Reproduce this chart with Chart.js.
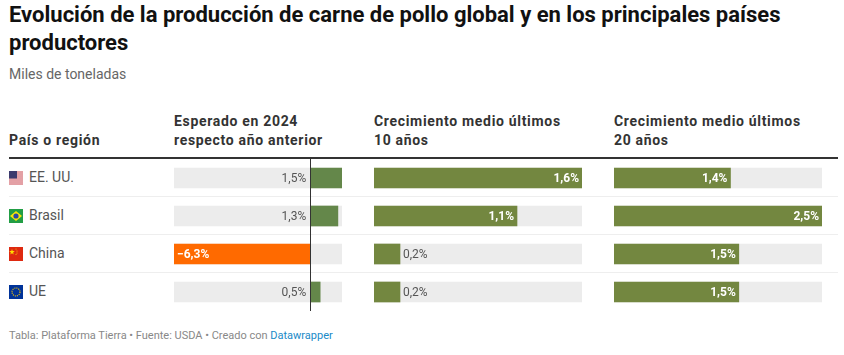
<!DOCTYPE html>
<html lang="es">
<head>
<meta charset="utf-8">
<title>Producción de carne de pollo</title>
<script src="https://cdn.jsdelivr.net/npm/chart.js@4"></script>
<style>
	html, body { margin: 0; padding: 0; background: #fff; }
	body { width: 844px; height: 355px; position: relative; overflow: hidden; font-family: Roboto, sans-serif; }
	.abs { position: absolute; white-space: nowrap; }
	#title { left: 9px; top: 1px; font-size: 22px; line-height: 28px; font-weight: 700; color: #111; }
	#subtitle { left: 9px; top: 65px; font-size: 14px; line-height: 18px; color: #666; }
	.head { font-size: 14px; line-height: 19px; font-weight: 700; color: #333; letter-spacing: .68px; }
	.rule { position: absolute; left: 9px; width: 829px; height: 1px; background: #eee; }
	#headrule { top: 157px; height: 2px; background: #333; }
	.country { left: 29px; font-size: 14px; line-height: 18px; color: #555; }
	.flag { position: absolute; left: 9px; width: 14px; height: 14px; }
	canvas { position: absolute; top: 159px; }
	#footer { left: 9px; top: 329px; font-size: 11px; line-height: 14px; color: #888; }
	#footer a { text-decoration: none; color: #1a8ac7; }
</style>
</head>
<body>
<div class="abs" id="title">Evolución de la producción de carne de pollo global y en los principales países<br>productores</div>
<div class="abs" id="subtitle">Miles de toneladas</div>

<div class="abs head" style="left:9px;top:131px">País o región</div>
<div class="abs head" style="left:174px;top:112px">Esperado en 2024<br>respecto año anterior</div>
<div class="abs head" style="left:374px;top:112px">Crecimiento medio últimos<br>10 años</div>
<div class="abs head" style="left:614px;top:112px">Crecimiento medio últimos<br>20 años</div>

<div class="rule" id="headrule"></div>
<div class="rule" style="top:196px"></div>
<div class="rule" style="top:234px"></div>
<div class="rule" style="top:272px"></div>

<svg class="flag" style="top:171px" viewBox="0 0 14 14">
	<rect width="14" height="14" fill="#fff"/>
	<path d="M0 1h14M0 3h14M0 5h14M0 7h14M0 9h14M0 11h14M0 13h14" stroke="#c8434d" stroke-width="1"/>
	<rect width="8" height="7.5" fill="#3c3b6e"/>
</svg>
<svg class="flag" style="top:209px" viewBox="0 0 14 14">
	<rect width="14" height="14" fill="#229e45"/>
	<path d="M7 2L13 7L7 12L1 7Z" fill="#f8e509"/>
	<circle cx="7" cy="7" r="2.6" fill="#2b49a3"/>
</svg>
<svg class="flag" style="top:247px" viewBox="0 0 14 14">
	<rect width="14" height="14" fill="#de2910"/>
	<path d="M3 2l.7 2.1h2.1l-1.7 1.3.6 2.1L3 6.2 1.3 7.500l.6-2.100L.2 4.100h2.100Z" fill="#ffde00"/>
	<circle cx="7" cy="2" r=".5" fill="#ffde00"/>
	<circle cx="8" cy="4" r=".5" fill="#ffde00"/>
	<circle cx="8" cy="6" r=".5" fill="#ffde00"/>
	<circle cx="7" cy="7.500" r=".5" fill="#ffde00"/>
</svg>
<svg class="flag" style="top:285px" viewBox="0 0 14 14">
	<rect width="14" height="14" fill="#003399"/>
	<circle cx="7" cy="7" r="4" fill="none" stroke="#ffcc00" stroke-width="1.100" stroke-dasharray="1.100 .98"/>
</svg>

<div class="abs country" style="top:168px">EE. UU.</div>
<div class="abs country" style="top:206px">Brasil</div>
<div class="abs country" style="top:244px">China</div>
<div class="abs country" style="top:282px">UE</div>

<canvas id="expected" width="168" height="152" style="left:174px"></canvas>
<canvas id="growth10" width="208" height="152" style="left:374px"></canvas>
<canvas id="growth20" width="208" height="152" style="left:614px"></canvas>

<div class="abs" id="footer">Tabla: Plataforma Tierra • Fuente: USDA • Creado con <a href="#">Datawrapper</a></div>

<script>
const countries = ['EE. UU.', 'Brasil', 'China', 'UE'];
const expected2024 = [1.47, 1.28, -6.3, 0.46];
const growth10 = [1.6, 1.1, 0.2, 0.2];
const growth20 = [1.4, 2.5, 1.5, 1.5];

const TRACK = '#ececec';
const GREEN_1 = '#64874a';
const GREEN_2 = '#738740';
const ORANGE = '#ff6a00';

function formatValue(v) {
	return (v < 0 ? '\u2212' : '') + Math.abs(v).toFixed(1).replace('.', ',') + '%';
}

// value labels, drawn on top of the bars
const valueLabels = {
	id: 'valueLabels',
	afterDatasetsDraw(chart, args, opts) {
		const ctx = chart.ctx;
		const x = chart.scales.x;
		const meta = chart.getDatasetMeta(1);
		ctx.save();
		ctx.textBaseline = 'middle';
		chart.data.datasets[1].data.forEach((v, i) => {
			const y = meta.data[i].y + 0.5;
			const text = formatValue(v);
			ctx.font = '700 12px Roboto';
			if (opts.diverging) {
				// positive values sit left of the zero line, negative inside the bar
				if (v < 0) {
					ctx.fillStyle = '#fff';
					ctx.textAlign = 'left';
					ctx.fillText(text, x.left + 3, y);
				} else {
					ctx.font = '12px Roboto';
					ctx.fillStyle = '#555';
					ctx.textAlign = 'right';
					ctx.fillText(text, x.getPixelForValue(0) - 4, y);
				}
				return;
			}
			const end = x.getPixelForValue(v);
			if (end - x.left > 40) {
				ctx.fillStyle = '#fff';
				ctx.textAlign = 'right';
				ctx.fillText(text, end - 3, y);
			} else {
				ctx.font = '12px Roboto';
				ctx.fillStyle = '#555';
				ctx.textAlign = 'left';
				ctx.fillText(text, end + 3, y);
			}
		});
		ctx.restore();
	}
};

function makeTable(id, values, min, max, colors, diverging) {
	return new Chart(document.getElementById(id), {
		type: 'bar',
		data: {
			labels: countries,
			datasets: [
				{
					data: countries.map(() => [min, max]),
					backgroundColor: TRACK,
					order: 2,
				},
				{
					data: values,
					backgroundColor: colors,
					order: 1,
				},
			]
		},
		options: {
			indexAxis: 'y',
			responsive: false,
			animation: false,
			events: [],
			datasets: { bar: { grouped: false, barThickness: 20, borderWidth: 0, borderSkipped: false } },
			layout: { padding: 0 },
			plugins: {
				legend: { display: false },
				title: { display: false },
				tooltip: { enabled: false },
				valueLabels: { diverging: diverging },
			},
			scales: {
				x: {
					min: min,
					max: max,
					display: diverging,
					afterBuildTicks: axis => { axis.ticks = [{ value: 0 }]; },
					ticks: { display: false },
					border: { display: false },
					grid: { color: '#333', lineWidth: 1, drawTicks: false, z: 1 },
				},
				y: { display: false },
			}
		},
		plugins: [valueLabels],
	});
}

makeTable('expected', expected2024, -6.3, 1.47, expected2024.map(v => v < 0 ? ORANGE : GREEN_1), true);
makeTable('growth10', growth10, 0, 1.6, GREEN_2, false);
makeTable('growth20', growth20, 0, 2.5, GREEN_2, false);
</script>
</body>
</html>
